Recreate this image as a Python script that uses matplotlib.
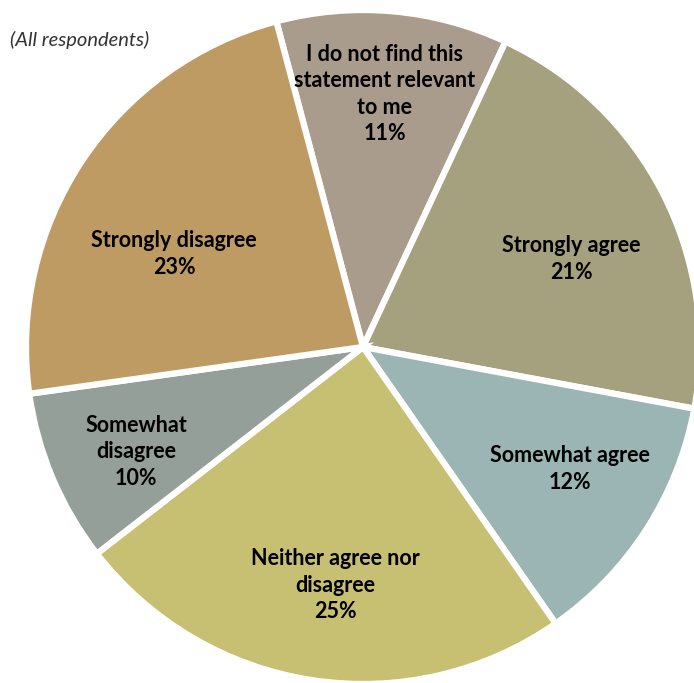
import matplotlib
matplotlib.use('Agg')
import matplotlib.pyplot as plt

# slice order: clockwise from the top
categories = ['I do not find this\nstatement relevant\nto me', 'Strongly agree', 'Somewhat agree',
              'Neither agree nor\ndisagree', 'Somewhat\ndisagree', 'Strongly disagree']
shares = [11.1, 21.0, 12.4, 24.2, 8.3, 23.1]
pct_labels = ['11%', '21%', '12%', '25%', '10%', '23%']
colors = ['#A99C8C', '#A5A07E', '#9BB5B5', '#C7BF72', '#949F9A', '#BF9B64']

W, H = 694, 683
fig = plt.figure(figsize=(W / 100, H / 100), dpi=100)
ax = fig.add_axes([0, 0, 1, 1])

cx, cy, r = 363, 347, 337
ax.pie(shares, colors=colors, startangle=104.9, counterclock=False,
       center=(cx, H - cy), radius=r,
       wedgeprops=dict(edgecolor='white', linewidth=4.5))
ax.set_xlim(0, W)
ax.set_ylim(0, H)
ax.set_aspect('auto')
ax.axis('off')

# label centres in pixels (x, y from top)
label_pos = [(385, 94), (571, 259), (570, 469), (335, 585), (136, 452), (174, 254)]
for name, pct, (x, y) in zip(categories, pct_labels, label_pos):
    ax.text(x, H - y, name + '\n' + pct, ha='center', va='center',
            fontsize=15.5, fontweight='bold', family='Lato',
            linespacing=1.32, color='black')

ax.text(10, H - 40, '(All respondents)', ha='left', va='center',
        fontsize=14.5, style='italic', family='Lato', color='#333333')

plt.savefig('out.png', dpi=100)
